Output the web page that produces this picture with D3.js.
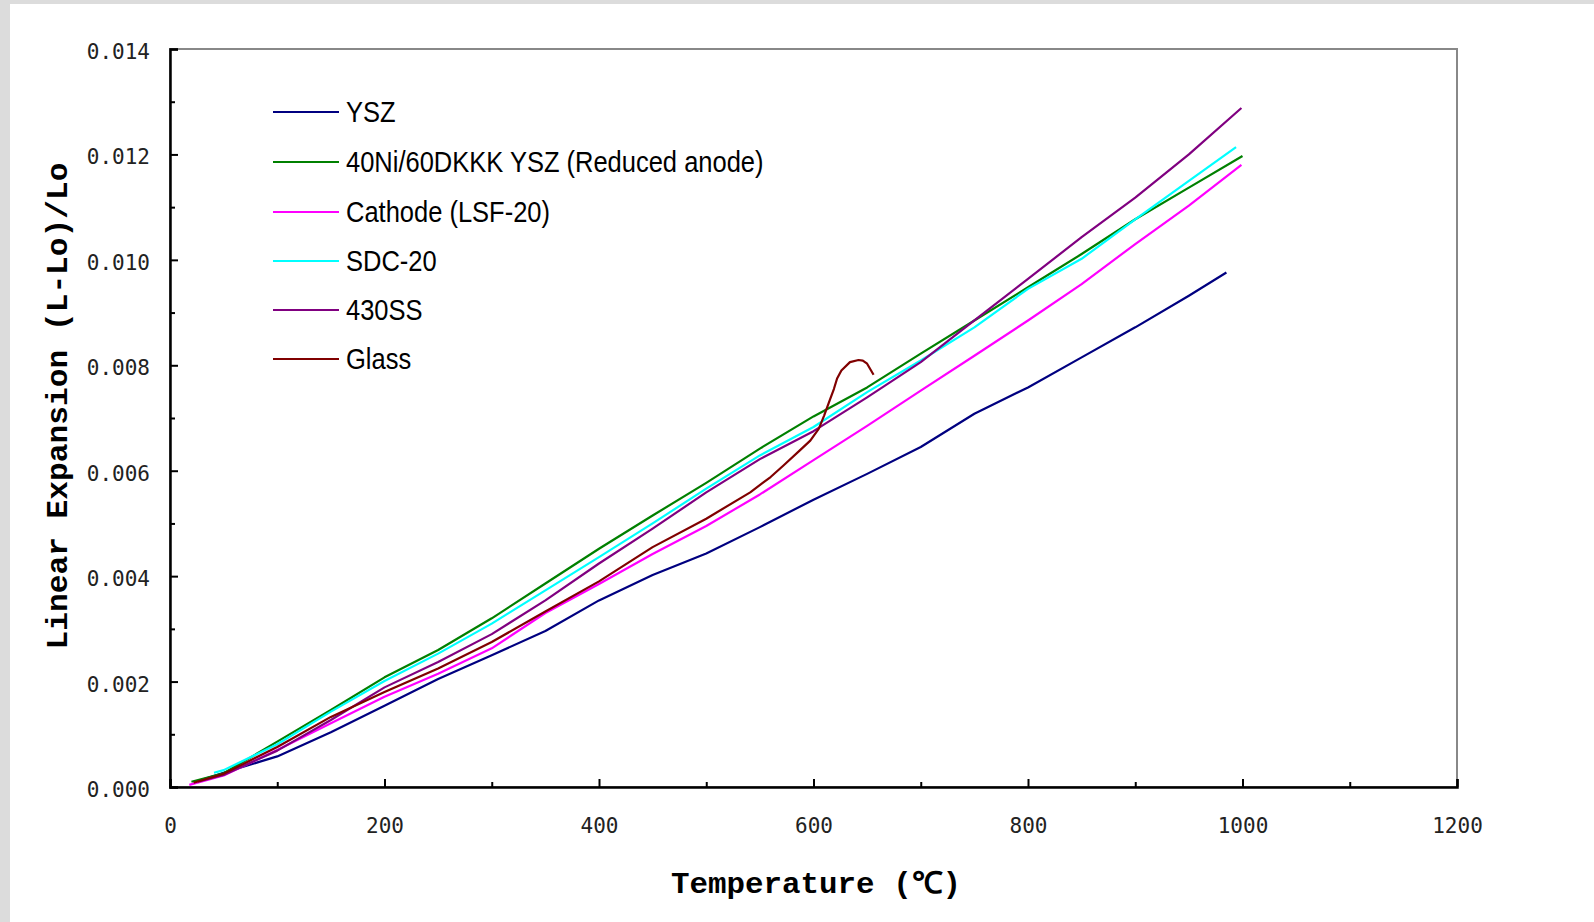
<!DOCTYPE html>
<html>
<head>
<meta charset="utf-8">
<script src="https://cdn.jsdelivr.net/npm/d3@7"></script>
<style>
body { margin: 0; background: #dcdcdc; }
svg { display: block; }
</style>
</head>
<body>
<svg id="chart" width="1594" height="922"></svg>
<script>
// Series names and colours, in legend order
var seriesNames = ["YSZ", "40Ni/60DKKK YSZ (Reduced anode)", "Cathode (LSF-20)", "SDC-20", "430SS", "Glass"];
var seriesColors = ["#000080", "#008000", "#ff00ff", "#00ffff", "#800080", "#800000"];

// Temperature (C) and linear expansion
var yszTemp = [24, 50, 100, 150, 200, 250, 300, 350, 400, 450, 500, 550, 600, 650, 700, 750, 800, 850, 900, 950, 985];
var yszExp  = [0.0001, 0.00027, 0.00058, 0.00104, 0.00154, 0.00205, 0.0025, 0.00296, 0.00354, 0.00402, 0.00443, 0.00493, 0.00545, 0.00594, 0.00645, 0.00708, 0.00758, 0.00815, 0.00872, 0.00932, 0.00976];

var anodeTemp = [20, 50, 100, 150, 200, 250, 300, 350, 400, 450, 500, 550, 600, 650, 700, 750, 800, 850, 900, 950, 1000];
var anodeExp  = [0.0001, 0.00026, 0.00086, 0.00146, 0.00208, 0.0026, 0.0032, 0.00386, 0.00452, 0.00515, 0.00577, 0.00642, 0.00703, 0.00758, 0.00822, 0.00885, 0.00948, 0.01011, 0.01077, 0.01137, 0.01197];

var cathodeTemp = [18, 50, 100, 150, 200, 250, 300, 350, 400, 450, 500, 550, 600, 650, 700, 750, 800, 850, 900, 950, 999];
var cathodeExp  = [0.00004, 0.00022, 0.0007, 0.00121, 0.00171, 0.00215, 0.00263, 0.0033, 0.00385, 0.00442, 0.00495, 0.00555, 0.0062, 0.00685, 0.00752, 0.00818, 0.00885, 0.00954, 0.0103, 0.01103, 0.0118];

var sdcTemp = [41, 50, 100, 150, 200, 250, 300, 350, 400, 450, 500, 550, 600, 650, 700, 750, 800, 850, 900, 950, 994];
var sdcExp  = [0.00027, 0.00032, 0.00081, 0.00143, 0.00201, 0.00253, 0.0031, 0.00373, 0.00436, 0.005, 0.00566, 0.00629, 0.00683, 0.00749, 0.00809, 0.00872, 0.00945, 0.01002, 0.01077, 0.0115, 0.01214];

var ssTemp = [26, 50, 100, 150, 200, 250, 300, 350, 400, 450, 500, 550, 600, 650, 700, 750, 800, 850, 900, 950, 999];
var ssExp  = [0.0001, 0.00023, 0.00069, 0.00127, 0.00189, 0.00237, 0.0029, 0.00354, 0.00424, 0.0049, 0.00559, 0.00622, 0.00675, 0.00739, 0.00806, 0.00885, 0.00964, 0.01043, 0.01118, 0.012, 0.01288];

var glassTemp = [22, 50, 100, 150, 200, 250, 300, 350, 400, 450, 500, 541, 560, 572, 587, 597, 605, 610, 615, 619, 622, 626, 634, 642, 646, 650, 656];
var glassExp  = [0.00008, 0.00025, 0.00076, 0.00133, 0.0018, 0.00225, 0.00275, 0.00333, 0.0039, 0.00455, 0.00509, 0.00559, 0.00588, 0.0061, 0.00638, 0.00657, 0.0068, 0.00705, 0.00733, 0.00755, 0.00775, 0.0079, 0.00806, 0.0081, 0.00809, 0.00803, 0.00782];

// Axis ticks
var xMajorTicks = [0, 200, 400, 600, 800, 1000, 1200];
var xMinorTicks = [100, 300, 500, 700, 900, 1100];
var yMajorTicks = [0, 0.002, 0.004, 0.006, 0.008, 0.010, 0.012, 0.014];
var yMinorTicks = [0.001, 0.003, 0.005, 0.007, 0.009, 0.011, 0.013];

var allTemps = [yszTemp, anodeTemp, cathodeTemp, sdcTemp, ssTemp, glassTemp];
var allExps = [yszExp, anodeExp, cathodeExp, sdcExp, ssExp, glassExp];

var svg = d3.select("#chart");

// white sheet with thin grey edge on the top and left
svg.append("rect").attr("x", 0).attr("y", 0).attr("width", 1594).attr("height", 922).attr("fill", "#dcdcdc");
svg.append("rect").attr("x", 10).attr("y", 4).attr("width", 1584).attr("height", 918).attr("fill", "#ffffff");

var plotLeft = 170, plotRight = 1457, plotTop = 49, plotBottom = 787;

var x = d3.scaleLinear().domain([0, 1200]).range([plotLeft, plotRight]);
var y = d3.scaleLinear().domain([0, 0.014]).range([plotBottom, plotTop]);

// Plot frame (grey top/right)
svg.append("rect")
    .attr("x", plotLeft).attr("y", plotTop)
    .attr("width", plotRight - plotLeft).attr("height", plotBottom - plotTop)
    .attr("fill", "none")
    .attr("stroke", "#888888")
    .attr("stroke-width", 2);

// Series lines
var line = d3.line()
    .x(function (d) { return x(d[0]); })
    .y(function (d) { return y(d[1]); });

var lineG = svg.append("g");
seriesNames.forEach(function (name, i) {
    var pts = allTemps[i].map(function (t, j) { return [t, allExps[i][j]]; });
    lineG.append("path")
        .datum(pts)
        .attr("d", line)
        .attr("fill", "none")
        .attr("stroke", seriesColors[i])
        .attr("stroke-width", 2.2)
        .attr("stroke-linejoin", "round");
});

// Y axis: major ticks with labels, minor ticks without
var yAxis = svg.append("g")
    .attr("transform", "translate(" + plotLeft + ",0)")
    .call(d3.axisLeft(y).tickValues(yMajorTicks).tickSize(-8).tickPadding(20)
        .tickFormat(d3.format(".3f")));
svg.append("g")
    .attr("transform", "translate(" + plotLeft + ",0)")
    .call(d3.axisLeft(y).tickValues(yMinorTicks).tickSize(-5).tickFormat(""))
    .call(function (g) { g.select(".domain").remove(); });

// X axis
var xAxis = svg.append("g")
    .attr("transform", "translate(0," + plotBottom + ")")
    .call(d3.axisBottom(x).tickValues(xMajorTicks).tickSize(-8).tickPadding(31)
        .tickFormat(d3.format("d")));
svg.append("g")
    .attr("transform", "translate(0," + plotBottom + ")")
    .call(d3.axisBottom(x).tickValues(xMinorTicks).tickSize(-5).tickFormat(""))
    .call(function (g) { g.select(".domain").remove(); });

svg.selectAll(".domain").attr("stroke", "#000").attr("stroke-width", 2.5);
svg.selectAll(".tick line").attr("stroke", "#000").attr("stroke-width", 2);
svg.selectAll(".tick text")
    .attr("fill", "#222")
    .style("font-family", "'DejaVu Sans Mono', monospace")
    .style("font-size", "21px");
yAxis.selectAll(".tick text").attr("dy", "0.45em");

// Axis titles
svg.append("text")
    .attr("x", 816).attr("y", 893)
    .attr("text-anchor", "middle")
    .attr("textLength", 290)
    .attr("lengthAdjust", "spacingAndGlyphs")
    .style("font-family", "'Liberation Mono', 'Courier New', monospace")
    .style("font-weight", "bold")
    .style("font-size", "30px")
    .text("Temperature (\u2103)");

svg.append("text")
    .attr("transform", "translate(67,406) rotate(-90)")
    .attr("text-anchor", "middle")
    .attr("textLength", 487)
    .attr("lengthAdjust", "spacingAndGlyphs")
    .style("font-family", "'Liberation Mono', 'Courier New', monospace")
    .style("font-weight", "bold")
    .style("font-size", "30px")
    .text("Linear Expansion (L-Lo)/Lo");

// Legend
var legendRows = [112, 162, 212, 261, 310, 359];
var legend = svg.append("g");
seriesNames.forEach(function (name, i) {
    legend.append("line")
        .attr("x1", 273).attr("x2", 339)
        .attr("y1", legendRows[i]).attr("y2", legendRows[i])
        .attr("stroke", seriesColors[i])
        .attr("stroke-width", 2.2);
    legend.append("text")
        .attr("transform", "translate(346," + (legendRows[i] + 10) + ") scale(0.85,1)")
        .style("font-family", "'Liberation Sans', Arial, sans-serif")
        .style("font-size", "30px")
        .attr("fill", "#000")
        .text(name);
});
</script>
</body>
</html>
